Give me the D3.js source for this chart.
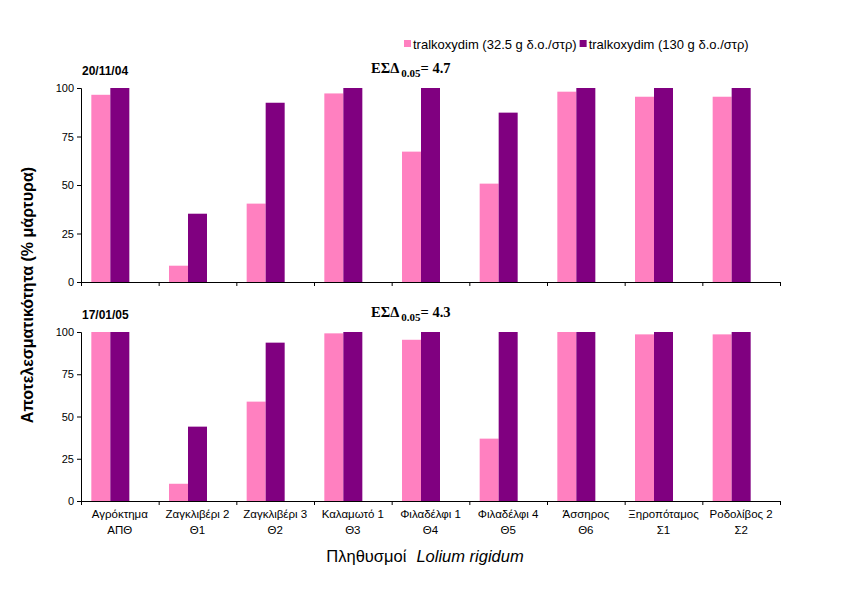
<!DOCTYPE html>
<html>
<head>
<meta charset="utf-8">
<script src="https://cdn.jsdelivr.net/npm/d3@7"></script>
<style>
html,body{margin:0;padding:0;background:#fff;}
svg{display:block;font-family:"Liberation Sans",Arial,sans-serif;}
</style>
</head>
<body>
<svg id="chart" width="864" height="608"></svg>
<script>
const categories = [
  ["Αγρόκτημα","ΑΠΘ"],
  ["Ζαγκλιβέρι 2","Θ1"],
  ["Ζαγκλιβέρι 3","Θ2"],
  ["Καλαμωτό 1","Θ3"],
  ["Φιλαδέλφι 1","Θ4"],
  ["Φιλαδέλφι 4","Θ5"],
  ["Άσσηρος","Θ6"],
  ["Ξηροπόταμος","Σ1"],
  ["Ροδολίβος 2","Σ2"]
];
const seriesNames = ["tralkoxydim (32.5 g δ.ο./στρ)", "tralkoxydim (130 g δ.ο./στρ)"];
const seriesColors = ["#FF80C0", "#800080"];
const yTicks = [0, 25, 50, 75, 100];

const dateTop = "20/11/04";
const lowTop = [96.5, 8.4, 40.4, 97.2, 67.2, 50.7, 98.1, 95.5, 95.5];
const highTop = [100, 35.2, 92.4, 100, 100, 87.3, 100, 100, 100];
const lsdTop = "4.7";

const dateBottom = "17/01/05";
const lowBottom = [100, 10.2, 58.8, 99.2, 95.4, 36.9, 100, 98.6, 98.6];
const highBottom = [100, 44.0, 93.7, 100, 100, 100, 100, 100, 100];
const lsdBottom = "4.3";

const yTitle = "Αποτελεσματικότητα (% μάρτυρα)";
const xTitleA = "Πληθυσμοί";
const xTitleB = "Lolium rigidum";

const svg = d3.select("#chart");
const left = 81, right = 780;
const catIdx = d3.range(categories.length);

const x0 = d3.scaleBand().domain(catIdx).range([left, right]).paddingInner(0.266).paddingOuter(0.133);
// three series slots (the third slot is empty, as in the original)
const x1 = d3.scaleBand().domain([0, 1, 2]).range([0, x0.bandwidth()]);
const xb = d3.scaleLinear().domain([0, categories.length]).range([left, right]);

const panels = [
  {top: 88, bottom: 282, date: dateTop, lsd: lsdTop, data: [lowTop, highTop], labels: false},
  {top: 332, bottom: 501, date: dateBottom, lsd: lsdBottom, data: [lowBottom, highBottom], labels: true}
];

panels.forEach(p => {
  const y = d3.scaleLinear().domain([0, 100]).range([p.bottom, p.top]);
  const g = svg.append("g");

  p.data.forEach((vals, s) => {
    g.append("g").selectAll("rect").data(vals).join("rect")
      .attr("x", (d, i) => x0(i) + x1(s))
      .attr("y", d => y(d))
      .attr("width", x1.bandwidth())
      .attr("height", d => y(0) - y(d))
      .attr("fill", seriesColors[s]);
  });

  // y axis
  const ya = g.append("g").attr("transform", `translate(${left},0)`)
    .call(d3.axisLeft(y).tickValues(yTicks).tickSize(4).tickPadding(3));
  ya.select(".domain").attr("stroke", "#000");
  ya.selectAll("text").attr("font-size", 11).attr("fill", "#000")
    .attr("font-family", "'Liberation Sans',Arial,sans-serif");

  // x axis with ticks at category boundaries
  const xa = g.append("g").attr("transform", `translate(0,${p.bottom})`)
    .call(d3.axisBottom(xb).tickValues(d3.range(categories.length + 1)).tickSize(4).tickFormat(""));
  xa.select(".domain").attr("stroke", "#000");
  xa.selectAll(".tick line").attr("stroke", "#000");

  if (p.labels) {
    const lab = g.append("g").selectAll("text").data(categories).join("text")
      .attr("text-anchor", "middle")
      .attr("font-size", 11.5);
    lab.append("tspan").attr("x", (d, i) => xb(i + 0.5)).attr("y", p.bottom + 17).text(d => d[0]);
    lab.append("tspan").attr("x", (d, i) => xb(i + 0.5)).attr("y", p.bottom + 33).text(d => d[1]);
  }

  // date label
  g.append("text").attr("x", left + 1).attr("y", p.top - 13)
    .attr("font-size", 12).attr("font-weight", "bold").text(p.date);

  // LSD label
  const t = g.append("text").attr("x", 371).attr("y", p.top - 15)
    .attr("font-family", "'Liberation Serif','Times New Roman',serif")
    .attr("font-weight", "bold").attr("font-size", 14.5);
  t.append("tspan").text("ΕΣΔ");
  t.append("tspan").attr("font-size", 11).attr("dy", 4).attr("dx", 2).text("0.05");
  t.append("tspan").attr("dy", -4).text("= " + p.lsd);
});

// legend
const leg = svg.append("g").attr("transform", "translate(404,44)");
let lx = 0;
seriesNames.forEach((name, i) => {
  const item = leg.append("g").attr("transform", `translate(${lx},0)`);
  item.append("rect").attr("x", 0).attr("y", -4).attr("width", 7).attr("height", 7).attr("fill", seriesColors[i]);
  const tx = item.append("text").attr("x", 9).attr("y", 4.5).attr("font-size", 13).text(name);
  lx += 9 + tx.node().getComputedTextLength() + 3;
});

// y title
svg.append("text")
  .attr("transform", "translate(33,295) rotate(-90)")
  .attr("text-anchor", "middle").attr("font-size", 16).attr("font-weight", "bold")
  .text(yTitle);

// x title
const xt = svg.append("text").attr("x", 425).attr("y", 562).attr("text-anchor", "middle").attr("font-size", 16.5);
xt.append("tspan").text(xTitleA);
xt.append("tspan").attr("dx", 10).attr("font-style", "italic").text(xTitleB);
</script>
</body>
</html>
